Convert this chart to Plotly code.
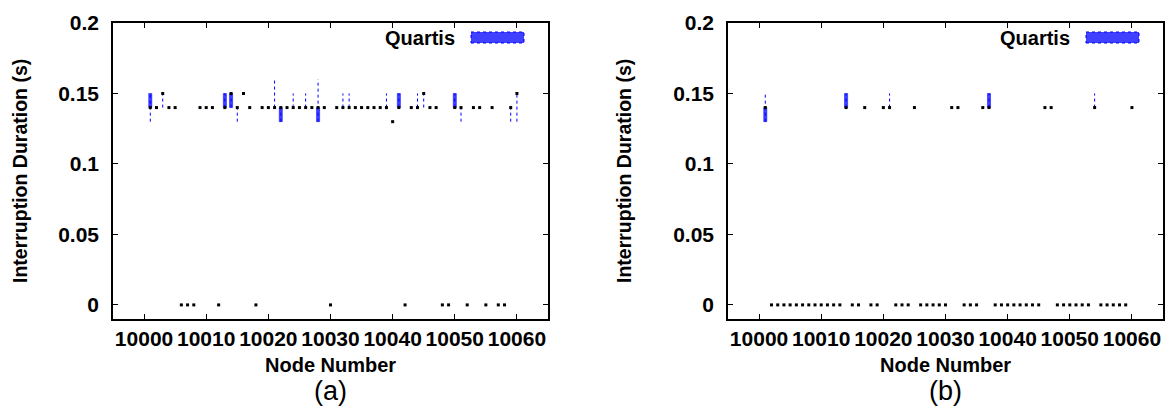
import plotly.graph_objects as go

W, H = 1170, 406

# ---------------- data ----------------
nodes = list(range(10001, 10061))

# panel (a): median per node
median_a = [0.14, 0.14, 0.15, 0.14, 0.14, 0, 0, 0, 0.14, 0.14,
            0.14, 0, 0.14, 0.15, 0.14, 0.15, 0.14, 0, 0.14, 0.14,
            0.14, 0.14, 0.14, 0.14, 0.14, 0.14, 0.14, 0.14, 0.14, 0,
            0.14, 0.14, 0.14, 0.14, 0.14, 0.14, 0.14, 0.14, 0.14, 0.13,
            0.14, 0, 0.14, 0.14, 0.15, 0.14, 0.14, 0, 0, 0.14,
            0.14, 0, 0.14, 0.14, 0, 0.14, 0, 0, 0.14, 0.15]
box_nodes_a = [10001, 10013, 10014, 10022, 10028, 10041, 10050]
box_lo_a = [0.14, 0.14, 0.14, 0.13, 0.13, 0.14, 0.14]
box_hi_a = [0.15, 0.15, 0.15, 0.14, 0.14, 0.15, 0.15]
whisk_nodes_a = [10001, 10003, 10013, 10014, 10015, 10021, 10022, 10024, 10026, 10028,
                 10032, 10033, 10039, 10041, 10044, 10045, 10050, 10051, 10059, 10060]
whisk_lo_a = [0.13, 0.14, 0.14, 0.14, 0.13, 0.14, 0.13, 0.14, 0.14, 0.13,
              0.14, 0.14, 0.14, 0.14, 0.14, 0.14, 0.14, 0.13, 0.13, 0.13]
whisk_hi_a = [0.15, 0.15, 0.15, 0.15, 0.14, 0.16, 0.14, 0.15, 0.15, 0.16,
              0.15, 0.15, 0.15, 0.15, 0.15, 0.15, 0.15, 0.14, 0.14, 0.15]

# panel (b)
median_b = [0.14, 0, 0, 0, 0, 0, 0, 0, 0, 0,
            0, 0, 0, 0.14, 0, 0, 0.14, 0, 0, 0.14,
            0.14, 0, 0, 0, 0.14, 0, 0, 0, 0, 0,
            0.14, 0.14, 0, 0, 0, 0.14, 0.14, 0, 0, 0,
            0, 0, 0, 0, 0, 0.14, 0.14, 0, 0, 0,
            0, 0, 0, 0.14, 0, 0, 0, 0, 0, 0.14]
box_nodes_b = [10001, 10014, 10037]
box_lo_b = [0.13, 0.14, 0.14]
box_hi_b = [0.14, 0.15, 0.15]
whisk_nodes_b = [10001, 10014, 10021, 10037, 10054]
whisk_lo_b = [0.13, 0.14, 0.14, 0.14, 0.14]
whisk_hi_b = [0.15, 0.15, 0.15, 0.15, 0.15]

x_ticks = [10000, 10010, 10020, 10030, 10040, 10050, 10060]
x_ticktext = ["10000", "10010", "10020", "10030", "10040", "10050", "10060"]
y_ticks = [0, 0.05, 0.1, 0.15, 0.2]
y_ticktext = ["0", "0.05", "0.1", "0.15", "0.2"]
legend_label = "Quartis"
x_title = "Node Number"
y_title = "Interruption Duration (s)"
panel_labels = ["(a)", "(b)"]

# ---------------- layout helpers ----------------
def px(x):
    return x / W

def py(y):
    return 1 - y / H

BLUE = "rgb(0,0,255)"
FILL = "rgb(64,64,255)"
FONT = "Liberation Sans, Arial, sans-serif"

panels = [
    dict(x0=113, x1=548, ytx=20, med=median_a, bn=box_nodes_a, bl=box_lo_a, bh=box_hi_a,
         wn=whisk_nodes_a, wl=whisk_lo_a, wh=whisk_hi_a, xa="x", ya="y"),
    dict(x0=728, x1=1163, ytx=624, med=median_b, bn=box_nodes_b, bl=box_lo_b, bh=box_hi_b,
         wn=whisk_nodes_b, wl=whisk_lo_b, wh=whisk_hi_b, xa="x2", ya="y2"),
]
top, bottom = 23, 319

fig = go.Figure()
annotations = []
shapes = []

for i, p in enumerate(panels):
    wx, wy = [], []
    for n, lo, hi in zip(p["wn"], p["wl"], p["wh"]):
        wx += [n, n, None]
        wy += [lo, hi, None]
    fig.add_trace(go.Scatter(x=wx, y=wy, mode="lines", xaxis=p["xa"], yaxis=p["ya"],
                             line=dict(color=BLUE, width=1, dash="dot"),
                             showlegend=False, hoverinfo="skip"))
    fig.add_trace(go.Bar(x=p["bn"], base=p["bl"],
                         y=[h - l for l, h in zip(p["bl"], p["bh"])],
                         width=0.5, xaxis=p["xa"], yaxis=p["ya"],
                         marker=dict(color=FILL, line=dict(color=BLUE, width=0.5)),
                         showlegend=False))
    fig.add_trace(go.Scatter(x=nodes, y=p["med"], mode="markers",
                             xaxis=p["xa"], yaxis=p["ya"],
                             marker=dict(symbol="square", size=3, color="black",
                                         line=dict(width=0)),
                             showlegend=False))

    cx = (p["x0"] + p["x1"]) / 2
    annotations += [
        dict(text="<b>%s</b>" % x_title, x=px(cx), y=py(365), xref="paper", yref="paper",
             showarrow=False, font=dict(size=20, color="black", family=FONT),
             xanchor="center", yanchor="middle"),
        dict(text=panel_labels[i], x=px(cx), y=py(391), xref="paper", yref="paper",
             showarrow=False, font=dict(size=27, color="black", family=FONT),
             xanchor="center", yanchor="middle"),
        dict(text="<b>%s</b>" % y_title, x=px(p["ytx"]), y=py((top + bottom) / 2),
             xref="paper", yref="paper", textangle=-90, showarrow=False,
             font=dict(size=19.5, color="black", family=FONT),
             xanchor="center", yanchor="middle"),
        dict(text="<b>%s</b>" % legend_label, x=px(p["x1"] - 91), y=py(38),
             xref="paper", yref="paper", showarrow=False,
             font=dict(size=20, color="black", family=FONT),
             xanchor="right", yanchor="middle"),
    ]
    shapes.append(dict(type="rect", xref="paper", yref="paper",
                       x0=px(p["x1"] - 77), x1=px(p["x1"] - 24),
                       y0=py(43), y1=py(32), fillcolor=FILL,
                       line=dict(color=BLUE, width=1, dash="dot")))

axis_common = dict(showline=True, linecolor="black", linewidth=1.5, mirror="ticks",
                   ticks="inside", ticklen=5, tickwidth=1, tickcolor="black",
                   showgrid=False, zeroline=False, automargin=False, tickangle=0,
                   tickfont=dict(size=21, color="black", family=FONT, weight="bold"))

layout = dict(
    width=W, height=H, margin=dict(l=0, r=0, t=0, b=0),
    paper_bgcolor="white", plot_bgcolor="white",
    barmode="overlay", showlegend=False,
    annotations=annotations, shapes=shapes,
)
for i, p in enumerate(panels):
    sfx = "" if i == 0 else "2"
    layout["xaxis" + sfx] = dict(domain=[px(p["x0"]), px(p["x1"])], range=[9995, 10065],
                                 tickvals=x_ticks, ticktext=x_ticktext, anchor="y" + sfx,
                                 ticklabelstandoff=0, **axis_common)
    layout["yaxis" + sfx] = dict(domain=[py(bottom), py(top)], range=[-0.01, 0.2],
                                 tickvals=y_ticks, ticktext=y_ticktext, anchor="x" + sfx,
                                 ticklabelstandoff=8, **axis_common)

fig.update_layout(**layout)
fig.write_html("out.html")
